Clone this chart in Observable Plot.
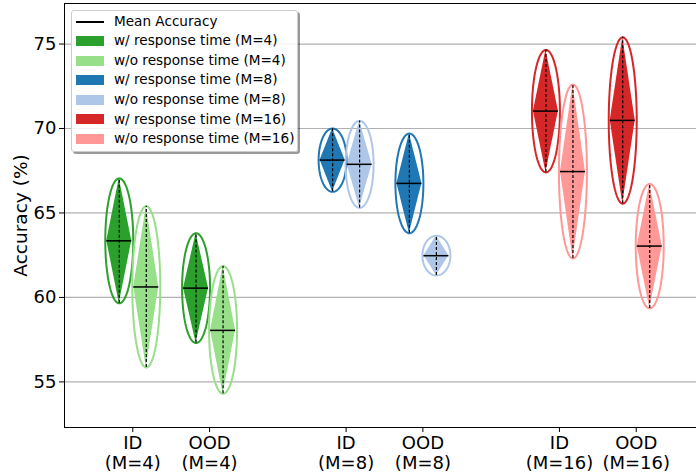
<!DOCTYPE html>
<html><head><meta charset="utf-8">
<script src="https://cdn.jsdelivr.net/npm/d3@7"></script>
<script src="https://cdn.jsdelivr.net/npm/@observablehq/plot@0.6"></script>
<style>
body{margin:0;background:#fff;font-family:"DejaVu Sans",sans-serif;}
#wrap{position:relative;width:696px;height:474px;overflow:hidden;}
#legend{position:absolute;left:71px;top:10px;width:227px;height:142px;background:rgba(255,255,255,0.85);border:1px solid #cccccc;border-radius:3px;box-shadow:2px 2px 0 rgba(0,0,0,0.4);box-sizing:border-box;font-size:13.6px;color:#000;}
.row{position:absolute;left:0;height:19.55px;width:100%;}
.hl{position:absolute;left:4px;width:28px;}
.tx{position:absolute;left:42px;top:0;line-height:19.55px;white-space:nowrap;}
</style></head>
<body><div id="wrap"><div id="chart"></div><div id="legend"></div></div>
<script>
// ---- data ----
const groupLabels = ["M=4", "M=8", "M=16"];
const splitLabels = ["ID", "OOD"];
const tickLabels = ["ID\n(M=4)", "OOD\n(M=4)", "ID\n(M=8)", "OOD\n(M=8)", "ID\n(M=16)", "OOD\n(M=16)"];
const yTicks = [55, 60, 65, 70, 75];
const yDomain = [52.3, 77.4];
const xDomain = [-0.5, 2.5];

// order: ID M=4, OOD M=4, ID M=8, OOD M=8, ID M=16, OOD M=16
const withMean = [63.35, 60.55, 68.13, 66.75, 71.03, 70.48];
const withMin  = [59.65, 57.30, 66.25, 63.80, 67.40, 65.55];
const withMax  = [67.05, 63.80, 70.00, 69.70, 74.65, 75.40];
const withoutMean = [60.62, 58.05, 67.88, 62.47, 67.45, 63.04];
const withoutMin  = [55.85, 54.30, 65.30, 61.30, 62.30, 59.35];
const withoutMax  = [65.40, 61.85, 70.45, 63.65, 72.60, 66.72];

const withColors = ["#2ca02c", "#1f77b4", "#d62728"];
const withoutColors = ["#98df8a", "#aec7e8", "#ff9896"];
const legendLabels = ["Mean Accuracy",
  "w/ response time (M=4)", "w/o response time (M=4)",
  "w/ response time (M=8)", "w/o response time (M=8)",
  "w/ response time (M=16)", "w/o response time (M=16)"];

// ---- layout helpers ----
const splitOff = 0.18, pairOff = 0.0633, halfW = 0.0586, ellA = 0.0656;
const tickPos = tickLabels.map((_, i) => Math.floor(i / 2) + (i % 2 ? splitOff : -splitOff));
const labelOf = new Map(tickPos.map((p, i) => [p, tickLabels[i]]));

const violins = [];
tickLabels.forEach((_, i) => {
  const g = Math.floor(i / 2);
  violins.push({id: "w" + i, kind: 0, pos: tickPos[i] - pairOff, mean: withMean[i], min: withMin[i], max: withMax[i], color: withColors[g]});
});
tickLabels.forEach((_, i) => {
  const g = Math.floor(i / 2);
  violins.push({id: "o" + i, kind: 1, pos: tickPos[i] + pairOff, mean: withoutMean[i], min: withoutMin[i], max: withoutMax[i], color: withoutColors[g]});
});

const areaPts = [];
const N = 40;
for (const v of violins) {
  for (let k = 0; k <= N; k++) {
    const t = -1 + 2 * k / N;
    const y = t < 0 ? v.mean + t * (v.mean - v.min) : v.mean + t * (v.max - v.mean);
    const w = halfW * (1 - Math.abs(t));
    areaPts.push({id: v.id, y, x1: v.pos - w, x2: v.pos + w, color: v.color});
  }
}
const ellPts = [];
for (const v of violins) {
  const c = (v.min + v.max) / 2, b = (v.max - v.min) / 2;
  for (let k = 0; k < 90; k++) {
    const th = 2 * Math.PI * k / 90;
    ellPts.push({id: v.id, x: v.pos + ellA * Math.cos(th), y: c + b * Math.sin(th), color: v.color, kind: v.kind});
  }
}

const chart = Plot.plot({
  width: 696, height: 474,
  marginLeft: 64, marginRight: 0, marginTop: 3, marginBottom: 47,
  style: {fontFamily: "DejaVu Sans", background: "#fff"},
  x: {domain: xDomain, range: [64, 704]},
  y: {domain: yDomain},
  color: {type: "identity"},
  marks: [
    Plot.ruleY(yTicks, {stroke: "#b0b0b0", strokeWidth: 1.2}),
    Plot.areaX(areaPts, {y: "y", x1: "x1", x2: "x2", z: "id", fill: "color", curve: "linear"}),
    Plot.line(ellPts, {x: "x", y: "y", z: "id", stroke: "color", strokeWidth: 2, curve: "linear-closed"}),
    Plot.ruleX(violins, {x: "pos", y1: "min", y2: "max", stroke: "#000", strokeWidth: 1.2, strokeDasharray: "3,2"}),
    Plot.ruleY(violins, {y: "mean", x1: d => d.pos - halfW, x2: d => d.pos + halfW, stroke: "#000", strokeWidth: 1.5}),
    Plot.ruleX([xDomain[0]], {stroke: "#000", strokeWidth: 1}),
    Plot.ruleY([yDomain[0], yDomain[1]], {stroke: "#000", strokeWidth: 1}),
    Plot.axisY(yTicks, {fontSize: 18, tickSize: 5, tickPadding: 3, label: null}),
    Plot.axisX(tickPos, {fontSize: 18, tickSize: 5, tickPadding: 2, lineHeight: 1.13, label: null, tickFormat: d => labelOf.get(d)}),
    Plot.text(["Accuracy (%)"], {frameAnchor: "left", textAnchor: "middle", rotate: -90, dx: -43, fontSize: 18.5, text: d => d})
  ]
});
document.getElementById("chart").appendChild(chart);

// legend
const leg = document.getElementById("legend");
const legColors = [null, withColors[0], withoutColors[0], withColors[1], withoutColors[1], withColors[2], withoutColors[2]];
legendLabels.forEach((lab, i) => {
  const row = document.createElement("div");
  row.className = "row";
  row.style.top = (0.8 + i * 19.55) + "px";
  const h = document.createElement("div");
  h.className = "hl";
  if (i === 0) { h.style.top = "9px"; h.style.height = "2px"; h.style.background = "#000"; }
  else { h.style.top = "4.8px"; h.style.height = "10px"; h.style.background = legColors[i]; }
  const t = document.createElement("div");
  t.className = "tx";
  t.textContent = lab;
  row.appendChild(h); row.appendChild(t);
  leg.appendChild(row);
});
</script></body></html>
